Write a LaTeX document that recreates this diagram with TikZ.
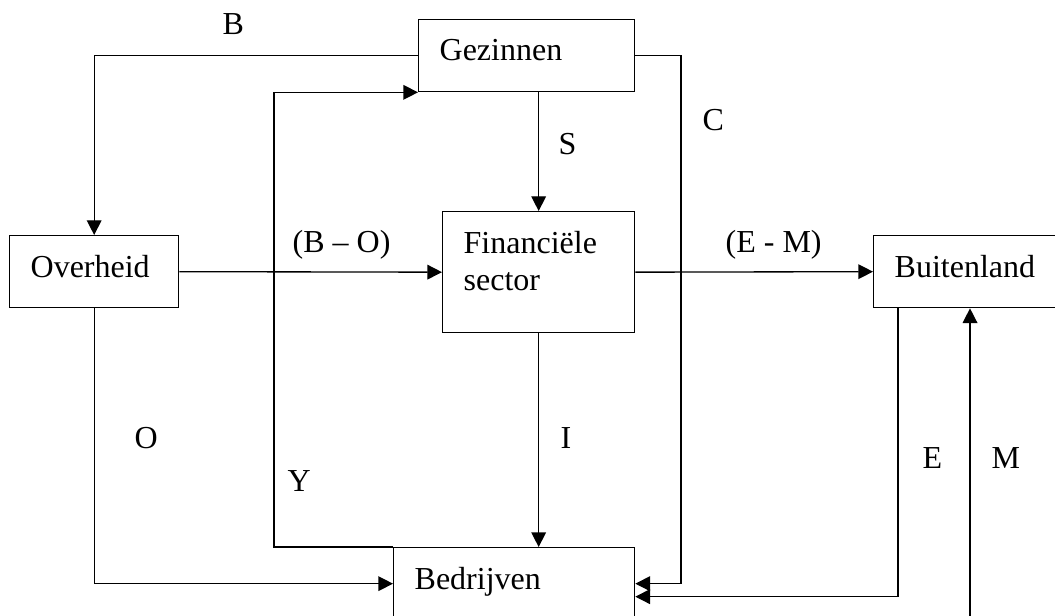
\documentclass[tikz,border=0pt]{standalone}
\usepackage{fontspec}
\setmainfont{Liberation Serif}
\usetikzlibrary{arrows.meta}

\begin{document}
\begin{tikzpicture}[x=0.75pt,y=-0.75pt,line width=1pt,
	font=\fontsize{24}{27.5}\selectfont,
	box/.style={draw, rectangle, inner sep=0pt, anchor=north west, minimum height=54pt},
	boxname/.style={anchor=north west, inner sep=0pt, align=left, xshift=15.75pt, yshift=-15pt},
	flow/.style={-{Triangle[length=11pt,width=11pt]}},
	tag/.style={anchor=base west, inner sep=0pt}]
%\draw [help lines,black!20!white] (0,0) grid[step=50] (1055,616);
\useasboundingbox (0,0) rectangle (1055,616);
\clip (0,0) rectangle (1055,616);

\node[box, minimum width=162pt, label={[boxname]north west:Gezinnen}] (gez) at (418,19) {};
\node[box, minimum width=126.75pt, label={[boxname]north west:Overheid}] (ovh) at (9,235) {};
\node[box, minimum width=144pt, minimum height=90.75pt, label={[boxname]north west:{Financiële\\sector}}] (fin) at (442,211) {};
\node[box, minimum width=140.25pt, label={[boxname]north west:Buitenland}] (bui) at (873,235) {};
\node[box, minimum width=180.75pt, label={[boxname]north west:Bedrijven}] (bed) at (393,547) {};

\coordinate (crail) at (681,0);
\coordinate (yrail) at (274,0);
\coordinate (erail) at (898,0);
\coordinate (mfoot) at (970,640);
\coordinate (ein) at ([yshift=-9.75pt]bed.east);

\draw[flow] (gez.west) -| (ovh.north);
\draw[flow] (fin.north |- gez.south) -- (fin.north);
\draw[flow] (gez.east) -- (gez.east -| crail) -- (crail |- bed.east) -- (bed.east);
\draw[flow] (ovh.east) -- (fin.west);
\draw[flow] (fin.east) -- (bui.west);
\draw[flow] (fin.south) -- (fin.south |- bed.north);
\draw[flow] (ovh.south) |- (bed.west);
\draw[flow] (bed.north west) -| (yrail |- gez.south) -- (gez.south west);
\draw[flow] (bui.south -| erail) |- (ein);
\draw[flow] (mfoot) -- (mfoot |- bui.south);

\node[tag] (lb) at (222,35) {B};
\node[tag] (ls) at (558,155) {S};
\node[tag] (lc) at (702,131) {C};
\node[tag] (lbo) at (292,253) {(B – O)};
\node[tag] (lem) at (725,253) {(E - M)};
\node[tag] (lo) at (134,448) {O};
\node[tag] (li) at (560,448) {I};
\node[tag] (ly) at (287,491) {Y};
\node[tag] (le) at (922,468) {E};
\node[tag] (lm) at (991,468) {M};

\end{tikzpicture}
\end{document}
